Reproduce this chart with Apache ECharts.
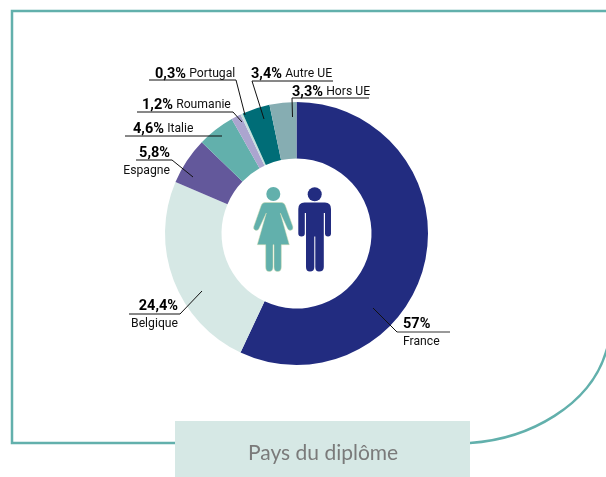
<!DOCTYPE html>
<html>
<head>
<meta charset="utf-8">
<title>Pays du diplôme</title>
<script src="https://cdn.jsdelivr.net/npm/echarts@6/dist/echarts.min.js"></script>
<style>
    html, body { margin: 0; padding: 0; background: #fff; }
    #chart { width: 606px; height: 477px; }
</style>
</head>
<body>
<div id="chart"></div>
<script>
var countries = ['France', 'Belgique', 'Espagne', 'Italie', 'Roumanie', 'Portugal', 'Autre UE', 'Hors UE'];
var shares = [57, 24.4, 5.8, 4.6, 1.2, 0.3, 3.4, 3.3];
var colors = ['#222c80', '#d6e8e5', '#63589b', '#62b0ac', '#aba5cf', '#c5e0dd', '#006d77', '#86adb2'];
var chartTitle = 'Pays du diplôme';

// position des etiquettes et des traits de rappel
var labelPlaces = [
    { x: 403, y: 315, align: 'left', verticalAlign: 'top', line: [[397, 332], [373, 308]] },
    { x: 178, y: 297, align: 'right', verticalAlign: 'top', line: [[129, 314], [180, 314], [202, 291]] },
    { x: 170, y: 144, align: 'right', verticalAlign: 'top', line: [[136, 160], [172, 160], [193, 177]] },
    { x: 133, y: 129, align: 'left', verticalAlign: 'middle', line: [[125, 136], [222, 136]] },
    { x: 142, y: 105, align: 'left', verticalAlign: 'middle', line: [[137, 112], [233, 112], [242, 122]] },
    { x: 155, y: 74, align: 'left', verticalAlign: 'middle', line: [[149, 80], [236, 80], [245, 115]] },
    { x: 251, y: 74, align: 'left', verticalAlign: 'middle', line: [[333, 81], [252, 81], [264, 119]] },
    { x: 292, y: 92, align: 'left', verticalAlign: 'middle', line: [[369, 98], [292, 98], [292.5, 117]] }
];
// etiquettes sur deux lignes
var twoLines = ['France', 'Belgique', 'Espagne'];

function formatShare(value) {
    return String(value).replace('.', ',') + '%';
}

var pieData = countries.map(function (name, i) {
    return { name: name, value: shares[i], itemStyle: { color: colors[i] } };
});

var framePath = 'M620 11H12V443H470C530 439 590 405 606 352L610 340';
var womanPath = 'M265 202.5H281.5Q284.5 202.5 285.5 206L292.8 226.5Q293.6 229.5 291 230.3Q288.5 230.8 287.5 228.5L280.3 213L289.3 244.7H281.3V267Q281.3 271.5 277.5 271.5Q274 271.5 274 267V244.7H273V267Q273 271.5 269.3 271.5Q265.7 271.5 265.7 267V244.7H257.3L266.3 213L259 228.5Q258 230.8 255.5 230.3Q253 229.5 253.8 226.5L261 206Q262 202.5 265 202.5Z';
var manPath = 'M304.5 202.5H325Q331 202.5 331 209V233.5Q331 236.5 328 236.5Q325 236.5 325 233.5V213H323.8V267Q323.8 271.5 319 271.5Q315.3 271.5 315.3 267V236.5H314.3V267Q314.3 271.5 310 271.5Q306 271.5 306 267V213H304.8V233.5Q304.8 236.5 301.5 236.5Q298.3 236.5 298.3 233.5V209Q298.3 202.5 304.5 202.5Z';

// cadre, bandeau du titre et pictogrammes
function renderDecor() {
    return {
        type: 'group',
        children: [
            { type: 'path', shape: { pathData: framePath }, style: { fill: 'none', stroke: '#62b0ac', lineWidth: 2.5 } },
            { type: 'rect', shape: { x: 175, y: 421, width: 295, height: 56 }, style: { fill: '#d6e8e5' } },
            { type: 'circle', shape: { cx: 273.3, cy: 194, r: 7 }, style: { fill: '#62b0ac' } },
            { type: 'path', shape: { pathData: womanPath }, style: { fill: '#62b0ac', stroke: '#d5dcb0', lineWidth: 0.5 } },
            { type: 'circle', shape: { cx: 314.7, cy: 194.3, r: 7 }, style: { fill: '#222c80' } },
            { type: 'path', shape: { pathData: manPath }, style: { fill: '#222c80' } }
        ]
    };
}

// traits de rappel, par dessus les parts
function renderLeaders() {
    var children = labelPlaces.map(function (place) {
        return { type: 'polyline', shape: { points: place.line }, style: { fill: 'none', stroke: '#111', lineWidth: 1 } };
    });
    // le trait sous France est gris et plus epais
    children.push({ type: 'line', shape: { x1: 397, y1: 332, x2: 450, y2: 332 }, style: { stroke: '#777', lineWidth: 1.5 } });
    return { type: 'group', children: children };
}

var myChart = echarts.init(document.getElementById('chart'), null, { renderer: 'canvas' });

myChart.setOption({
    animation: false,
    backgroundColor: '#fff',
    title: {
        text: chartTitle,
        left: 243,
        top: 438,
        textStyle: { fontFamily: 'Lato', fontWeight: 'normal', fontSize: 21, color: '#7a7a7a' }
    },
    series: [{
        type: 'custom',
        coordinateSystem: 'none',
        silent: true,
        z: 1,
        data: [[0]],
        renderItem: renderDecor
    }, {
        type: 'pie',
        z: 2,
        center: [296.5, 233.5],
        radius: [75, 131.5],
        startAngle: 90,
        clockwise: true,
        avoidLabelOverlap: false,
        silent: true,
        data: pieData,
        label: {
            show: true,
            color: '#111',
            fontFamily: 'Roboto',
            fontSize: 13,
            formatter: function (p) {
                var share = '{b|' + formatShare(p.value) + '}';
                var name = '{n|' + p.name + '}';
                return twoLines.indexOf(p.name) >= 0 ? share + '\n' + name : share + ' ' + name;
            },
            rich: {
                b: { fontFamily: 'Roboto', fontWeight: 'bold', fontSize: 14.5, lineHeight: 18, color: '#000' },
                n: { fontFamily: 'Roboto', fontSize: 12.2, lineHeight: 18, color: '#111' }
            }
        },
        labelLine: { show: false },
        labelLayout: function (p) {
            var place = labelPlaces[p.dataIndex];
            return { x: place.x, y: place.y, align: place.align, verticalAlign: place.verticalAlign };
        }
    }, {
        type: 'custom',
        coordinateSystem: 'none',
        silent: true,
        z: 3,
        data: [[0]],
        renderItem: renderLeaders
    }]
});
</script>
</body>
</html>
